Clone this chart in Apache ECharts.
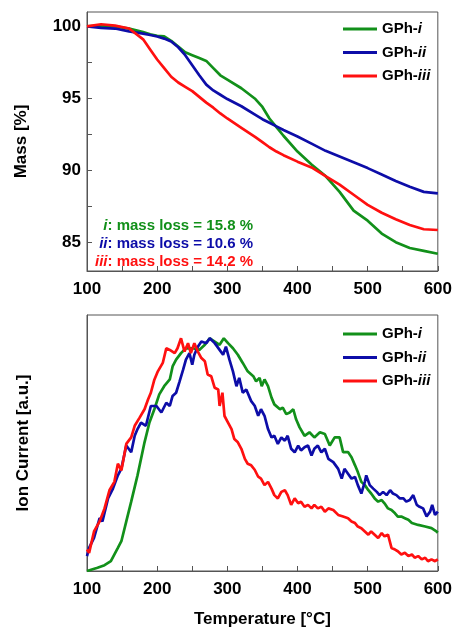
<!DOCTYPE html>
<html>
<head>
<meta charset="utf-8">
<script src="https://cdn.jsdelivr.net/npm/echarts@6/dist/echarts.min.js"></script>
<style>
  html, body { margin: 0; padding: 0; background: #fff; }
  #chart { width: 455px; height: 629px; }
</style>
</head>
<body>
<div id="chart"></div>
<script>
// ---- data ----
const names = ['GPh-i', 'GPh-ii', 'GPh-iii']
const colors = ['#12901a', '#0d0da8', '#ff1010']

// TGA (mass %) vs temperature
const tempMass = [100, 120, 140, 160, 180, 190, 200, 210, 220, 230, 240, 250, 260, 270, 280, 290, 300,
  320, 340, 350, 360, 370, 380, 400, 420, 440, 460, 480, 500, 520, 540, 560, 580, 600]
const massI = [100, 100.05, 100.0, 99.85, 99.6, 99.45, 99.35, 99.3, 99.0, 98.6, 98.2, 98.0, 97.8, 97.6, 97.1, 96.6, 96.3,
  95.7, 94.95, 94.4, 93.6, 93.0, 92.4, 91.3, 90.4, 89.6, 88.5, 87.2, 86.5, 85.6, 85.0, 84.6, 84.4, 84.2]
const massII = [100, 99.9, 99.85, 99.65, 99.5, 99.4, 99.3, 99.15, 98.95, 98.55, 98.0, 97.3, 96.6, 95.95, 95.55, 95.25, 94.95,
  94.45, 93.85, 93.55, 93.3, 93.05, 92.8, 92.35, 91.85, 91.35, 90.95, 90.55, 90.15, 89.7, 89.25, 88.85, 88.5, 88.4]
const massIII = [100, 100.15, 100.05, 99.85, 99.1, 98.4, 97.7, 97.1, 96.5, 96.1, 95.8, 95.5, 95.1, 94.7, 94.35, 93.95, 93.6,
  92.95, 92.3, 91.95, 91.6, 91.3, 91.05, 90.6, 90.2, 89.6, 89.0, 88.3, 87.6, 87.05, 86.6, 86.2, 85.9, 85.85]

const lossLabels = ['i', 'ii', 'iii']
const lossValues = ['15.8', '10.6', '14.2']

// MS ion current (a.u.) vs temperature
const tempIonI = [100, 115, 125, 134, 144, 149, 156, 163, 172, 182, 189, 196, 203, 210, 218, 222, 227, 234, 241, 251,
  260, 268, 275, 282, 289, 295, 301, 308, 315, 322, 329, 337, 341, 346, 349, 353, 358, 363, 367, 375, 379, 384, 389,
  394, 398, 403, 410, 417, 424, 432, 439, 446, 453, 460, 465, 467, 472, 477, 482, 486, 491, 496, 501, 505, 510, 515,
  520, 524, 529, 534, 539, 543, 548, 553, 558, 563, 572, 582, 591, 598, 600]
const ionI = [0, 1.4, 2.5, 4.2, 9.9, 12.8, 21.3, 29.8, 41.1, 55.3, 63.8, 69.5, 75.9, 79.4, 82.3, 87.9, 90.8, 93.6, 95.7, 95.7,
  95.0, 97.2, 100, 98.6, 97.2, 100, 97.9, 95.7, 92.9, 89.4, 85.8, 83.7, 81.5, 83.0, 79.4, 82.3, 79.4, 74.5, 71.6, 69.5, 70.2, 67.4, 68.1,
  69.5, 65.2, 61.7, 58.1, 59.6, 57.4, 59.6, 58.9, 53.9, 57.4, 57.4, 51.1, 51.8, 51.1, 48.9, 45.4, 42.5, 38.3, 36.9, 34.7, 33.3, 31.2, 29.8,
  30.5, 29.1, 26.9, 26.2, 24.8, 23.4, 23.4, 22.7, 22.0, 20.6, 19.8, 19.1, 18.4, 17.0, 16.5]

const tempIonII = [100, 103, 110, 118, 122, 130, 137, 144, 149, 156, 163, 168, 172, 177, 184, 191, 199, 206, 213, 218,
  222, 227, 232, 237, 241, 246, 250, 253, 258, 263, 270, 275, 282, 289, 294, 298, 303, 308, 313, 317, 322, 327, 334,
  339, 344, 348, 353, 358, 363, 367, 372, 377, 382, 386, 391, 396, 401, 405, 410, 415, 420, 424, 429, 434, 439, 444,
  451, 458, 463, 467, 472, 477, 482, 486, 491, 496, 498, 503, 508, 513, 517, 522, 527, 532, 536, 541, 546, 551, 555,
  560, 565, 570, 574, 579, 584, 589, 592, 596, 600]
const ionII = [6.4, 9.9, 14.2, 22.7, 21.3, 31.2, 35.4, 41.1, 44.0, 53.9, 51.0, 58.1, 61.0, 63.8, 62.4, 70.9, 70.9, 68.1, 72.3, 70.9,
  75.2, 76.6, 81.5, 86.5, 90.8, 93.6, 88.6, 92.9, 96.4, 98.6, 97.9, 100, 97.9, 95.0, 92.9, 96.4, 90.8, 85.8, 79.4, 83.0, 76.6, 78.0, 73.0,
  71.0, 66.7, 69.5, 66.7, 61.0, 57.4, 58.1, 54.6, 57.4, 56.0, 58.1, 52.5, 51.0, 53.9, 51.8, 53.2, 53.9, 49.6, 52.5, 53.9, 51.0, 52.5, 48.2,
  46.8, 43.9, 39.7, 43.9, 41.8, 39.7, 40.4, 36.9, 33.3, 38.3, 41.1, 36.9, 35.4, 34.0, 32.6, 34.0, 32.6, 34.7, 33.3, 32.6, 31.2, 31.2, 29.8,
  30.5, 32.6, 28.4, 27.6, 26.9, 23.4, 25.5, 28.4, 24.1, 25.5]

const tempIonIII = [100, 103, 110, 118, 125, 132, 139, 144, 149, 156, 163, 168, 175, 182, 187, 191, 196, 201, 208, 213,
  218, 225, 229, 234, 239, 244, 248, 253, 258, 263, 268, 272, 277, 282, 287, 289, 293, 296, 301, 306, 310, 315, 320,
  325, 329, 334, 339, 344, 348, 353, 358, 363, 367, 372, 377, 382, 386, 391, 396, 401, 405, 410, 415, 420, 424, 429,
  434, 439, 444, 451, 458, 465, 467, 472, 477, 482, 486, 491, 496, 501, 505, 510, 515, 520, 524, 529, 534, 539, 543,
  548, 553, 558, 563, 567, 572, 577, 582, 586, 591, 596, 600]
const ionIII = [9.2, 7.8, 17.0, 21.3, 26.9, 34.7, 38.3, 46.1, 43.2, 54.6, 57.4, 62.4, 65.9, 69.5, 73.7, 76.6, 82.2, 85.8, 89.4, 95.7,
  95.0, 93.6, 95.7, 100, 94.3, 97.9, 93.6, 97.9, 94.3, 91.5, 90.1, 84.4, 83.7, 78.7, 78.0, 70.9, 76.6, 66.6, 63.8, 61.0, 56.7, 55.3, 52.5,
  48.2, 46.1, 45.4, 43.5, 40.5, 39.7, 36.9, 38.3, 35.4, 32.6, 31.2, 34.0, 34.7, 32.6, 28.4, 31.2, 29.1, 29.8, 27.6, 28.4, 26.9, 28.4, 26.9,
  27.6, 25.5, 26.9, 26.2, 24.1, 23.4, 23.4, 22.7, 21.3, 20.6, 19.1, 18.4, 17.0, 15.6, 17.0, 15.6, 14.2, 16.3, 14.9, 15.6, 9.9, 9.2, 8.5,
  7.1, 7.8, 6.4, 7.1, 5.7, 6.4, 5.0, 5.7, 4.2, 5.0, 4.2, 5.0]

const tempTicks = [100, 200, 300, 400, 500, 600]
const massTicks = [85, 87.5, 90, 92.5, 95, 97.5, 100]
const massLabels = [85, 90, 95, 100]

// ---- chart ----
const FONT = 'Arial, "Liberation Sans", sans-serif'
const AXIS_COLOR = '#555'

const zip = (xs, ys) => xs.map((x, i) => [x, ys[i]])
const massData = [massI, massII, massIII]
const ionTemps = [tempIonI, tempIonII, tempIonIII]
const ionData = [ionI, ionII, ionIII]

const chart = echarts.init(document.getElementById('chart'))

function xAxisCfg (gridIndex, withName) {
  return {
    type: 'value',
    gridIndex,
    min: 100,
    max: 600,
    interval: 50,
    axisLine: { lineStyle: { color: AXIS_COLOR, width: 1 } },
    axisTick: { inside: true, length: 5, lineStyle: { color: AXIS_COLOR } },
    axisLabel: {
      customValues: tempTicks,
      color: '#000', fontSize: 17, fontWeight: 'bold', fontFamily: FONT, margin: 10
    },
    splitLine: { show: false },
    name: withName ? 'Temperature [°C]' : '',
    nameLocation: 'middle',
    nameGap: 40,
    nameTextStyle: { color: '#000', fontSize: 17, fontWeight: 'bold', fontFamily: FONT }
  }
}

const legendText = {
  color: '#000', fontSize: 15, fontWeight: 'bold', fontFamily: FONT, lineHeight: 16,
  rich: { it: { fontStyle: 'italic', fontWeight: 'bold', fontSize: 15, fontFamily: FONT, color: '#000', lineHeight: 16 } }
}
function legendCfg (top) {
  return {
    data: names.map(n => ({ name: n, icon: 'rect' })),
    orient: 'vertical',
    left: 338,
    top,
    itemWidth: 34,
    itemHeight: 3,
    itemGap: 7.5,
    textStyle: legendText,
    formatter: n => n.replace(/-(i+)$/, '-{it|$1}')
  }
}

const option = {
  animation: false,
  backgroundColor: '#fff',
  grid: [
    { left: 87, right: 15, top: 12, height: 259, show: true, borderColor: AXIS_COLOR, borderWidth: 1 },
    { left: 87, right: 17, top: 315, height: 258, show: true, borderColor: AXIS_COLOR, borderWidth: 1 }
  ],
  legend: [legendCfg(16), legendCfg(321)],
  xAxis: [xAxisCfg(0, false), xAxisCfg(1, true)],
  yAxis: [
    {
      type: 'value',
      gridIndex: 0,
      min: 83,
      max: 101,
      axisLine: { show: true, lineStyle: { color: AXIS_COLOR } },
      axisTick: { customValues: massTicks, inside: true, length: 5, lineStyle: { color: AXIS_COLOR } },
      axisLabel: { customValues: massLabels, color: '#000', fontSize: 17, fontWeight: 'bold', fontFamily: FONT, margin: 6 },
      splitLine: { show: false },
      name: 'Mass [%]',
      nameLocation: 'middle',
      nameGap: 57,
      nameTextStyle: { color: '#000', fontSize: 17, fontWeight: 'bold', fontFamily: FONT }
    },
    {
      type: 'value',
      gridIndex: 1,
      min: 0,
      max: 110,
      axisLine: { show: true, lineStyle: { color: AXIS_COLOR } },
      axisTick: { show: false },
      axisLabel: { show: false },
      splitLine: { show: false },
      name: 'Ion Current [a.u.]',
      nameLocation: 'middle',
      nameGap: 55,
      nameTextStyle: { color: '#000', fontSize: 17, fontWeight: 'bold', fontFamily: FONT }
    }
  ],
  graphic: lossLabels.map((lab, i) => ({
    type: 'text',
    x: 253,
    y: 226 + i * 18,
    silent: true,
    style: {
      text: '{it|' + lab + '}: mass loss = ' + lossValues[i] + ' %',
      align: 'right',
      verticalAlign: 'middle',
      fill: colors[i],
      fontSize: 15,
      fontWeight: 'bold',
      fontFamily: FONT,
      rich: { it: { fontStyle: 'italic', fontWeight: 'bold', fontSize: 15, fontFamily: FONT, fill: colors[i] } }
    }
  })),
  series: [
    ...names.map((n, i) => ({
      name: n,
      type: 'line',
      xAxisIndex: 0,
      yAxisIndex: 0,
      symbol: 'none',
      showSymbol: false,
      lineStyle: { width: 2.7, color: colors[i] },
      itemStyle: { color: colors[i] },
      data: zip(tempMass, massData[i])
    })),
    ...names.map((n, i) => ({
      name: n,
      type: 'line',
      xAxisIndex: 1,
      yAxisIndex: 1,
      symbol: 'none',
      showSymbol: false,
      lineStyle: { width: 2.7, color: colors[i] },
      itemStyle: { color: colors[i] },
      data: zip(ionTemps[i], ionData[i])
    }))
  ]
}

chart.setOption(option)
</script>
</body>
</html>
